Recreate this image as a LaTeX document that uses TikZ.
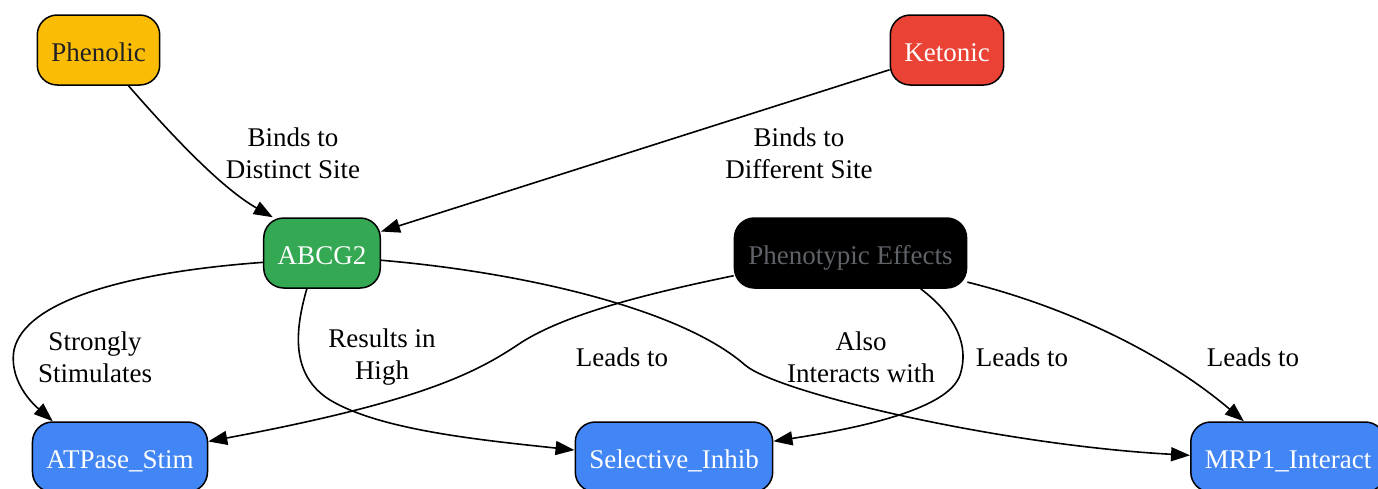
\documentclass[tikz,border=0pt]{standalone}
\usepackage{fontspec}
\setmainfont{Liberation Serif}
\usetikzlibrary{arrows.meta}
\definecolor{gyellow}{HTML}{FBBC05}
\definecolor{gred}{HTML}{EA4335}
\definecolor{ggreen}{HTML}{34A853}
\definecolor{gblue}{HTML}{4285F4}
\definecolor{gtext}{HTML}{202124}
\definecolor{ggrey}{HTML}{5F6368}
\begin{document}
\begin{tikzpicture}[x=1pt,y=-1pt,
    box/.style={draw,line width=1.5pt,rounded corners=20pt,minimum height=70pt,inner xsep=14pt,inner ysep=0pt,text height=23pt,text depth=0pt,font=\fontsize{27}{32}\selectfont},
    lbl/.style={align=center,font=\fontsize{27}{32}\selectfont},
    link/.style={line width=1.6pt,-{Triangle[length=19pt,width=14pt]}}]
    \useasboundingbox (0,0) rectangle (1378,488);
    %% Compounds
    \node[box,fill=gyellow,text=gtext] (phenolic) at (98.5,50) {Phenolic};
    \node[box,fill=gred,text=white] (ketonic) at (947,50) {Ketonic};
    %% Transporter and effects
    \node[box,fill=ggreen,text=white] (abcg) at (322,253) {ABCG2};
    \node[box,fill=black,text=ggrey] (pheno) at (850.5,253) {Phenotypic Effects};
    %% Outcomes
    \node[box,fill=gblue,text=white] (atp) at (120,457) {ATPase\_Stim};
    \node[box,fill=gblue,text=white] (sel) at (674,457) {Selective\_Inhib};
    \node[box,fill=gblue,text=white] (mrp) at (1288,457) {MRP1\_Interact};
    %% Binding
    \draw[link] (phenolic.-50) .. controls (180,145) and (225,190) .. (abcg.144);
    \node[lbl] (l1) at (293,153) {Binds to\\Distinct Site};
    \draw[link] (ketonic.199) -- (abcg.20);
    \node[lbl] (l2) at (799,153) {Binds to\\Different Site};
    %% From ABCG2
    \draw[link] (abcg.189) .. controls (130,272) and (25,300) .. (14,350)
        .. controls (8,385) and (40,410) .. (atp.152);
    \node[lbl] (l3) at (95,357) {Strongly\\Stimulates};
    \draw[link] (abcg.247) .. controls (295,330) and (290,375) .. (330,400)
        .. controls (380,430) and (480,440) .. (sel.176);
    \node[lbl] (l4) at (382,357) {Results in\\High};
    \draw[link] (abcg.-7) .. controls (520,272) and (680,308) .. (745,365)
        .. controls (778,393) and (1000,445) .. (mrp.179);
    \node[lbl] (l5) at (861,357) {Also\\Interacts with};
    %% From effects
    \draw[link] (pheno.191) .. controls (640,295) and (565,315) .. (522,342)
        .. controls (480,370) and (430,400) .. (atp.10);
    \node[lbl] (l6) at (622,357) {Leads to};
    \draw[link] (pheno.-27) .. controls (955,315) and (970,345) .. (960,375)
        .. controls (950,405) and (880,425) .. (sel.9);
    \node[lbl] (l7) at (1022,357) {Leads to};
    \draw[link] (pheno.-14) .. controls (1060,305) and (1160,350) .. (mrp.141);
    \node[lbl] (l8) at (1253,357) {Leads to};
\end{tikzpicture}
\end{document}
